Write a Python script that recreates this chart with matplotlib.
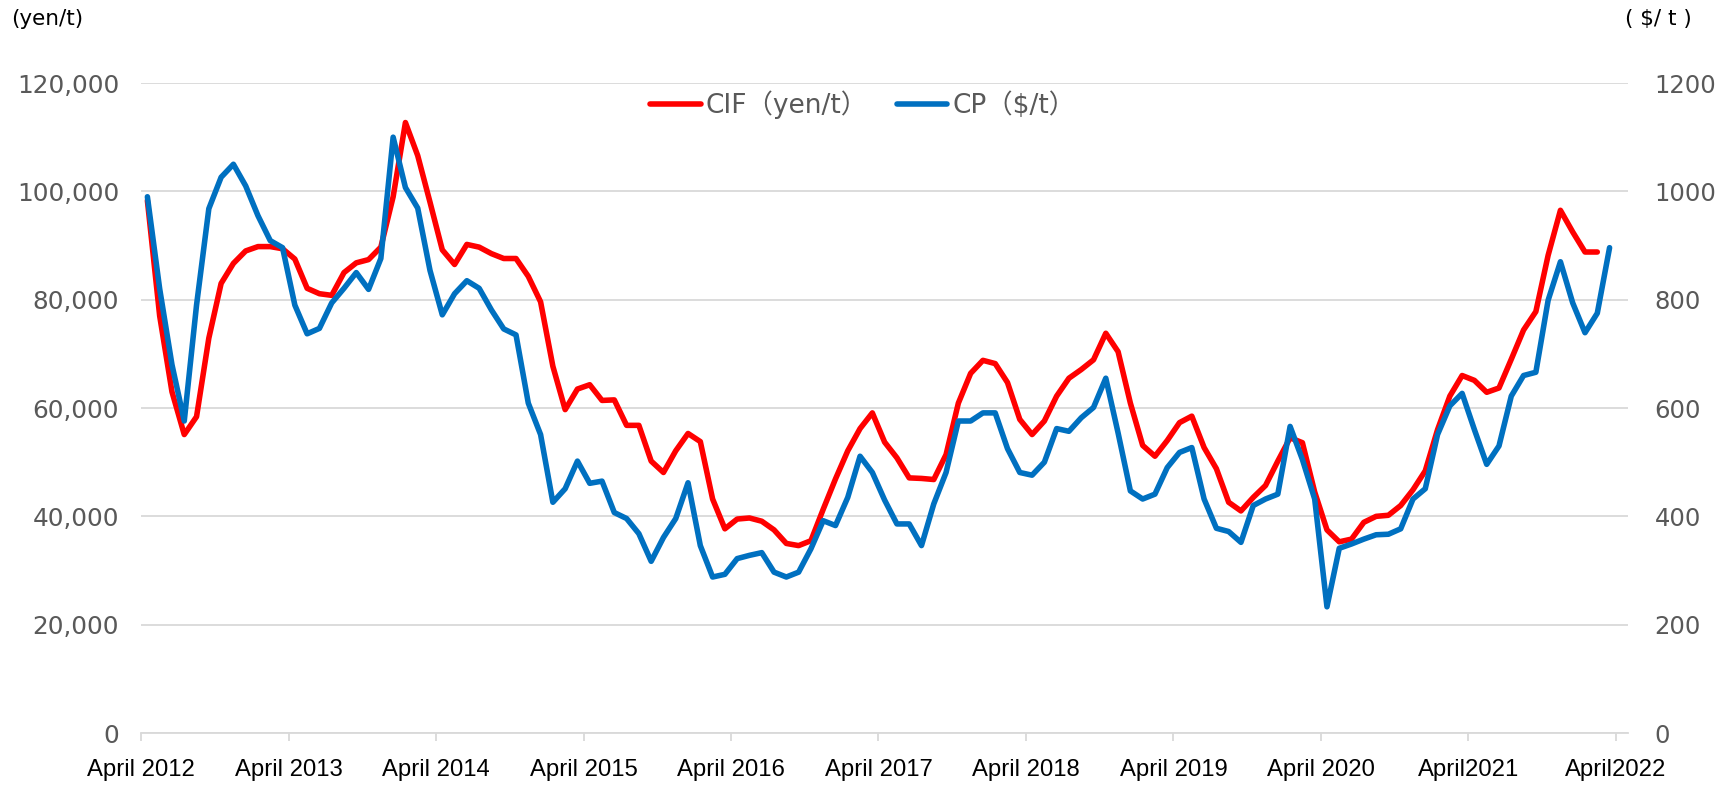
import numpy as np
import matplotlib
matplotlib.use("Agg")
import matplotlib.pyplot as plt

# CIF price (yen/t), monthly from April 2012
cif = [98300, 77000, 63000, 55100, 58400, 72900, 83000, 86700, 89000, 89800,
       89800, 89400, 87500, 82100, 81100, 80800, 85000, 86800, 87400, 89700,
       99000, 112700, 106600, 98000, 89200, 86500, 90200, 89700, 88500, 87600,
       87600, 84300, 79600, 67700, 59700, 63500, 64300, 61400, 61500, 56800,
       56800, 50200, 48100, 52100, 55300, 53800, 43200, 37700, 39500, 39700,
       39100, 37500, 35000, 34600, 35500, 41300, 46900, 52100, 56200, 59100,
       53700, 50800, 47100, 47000, 46800, 51400, 60900, 66400, 68800, 68200,
       64700, 57900, 55100, 57600, 62200, 65500, 67100, 68900, 73800, 70400,
       60900, 53100, 51100, 54000, 57300, 58500, 52700, 48800, 42600, 41000,
       43500, 45700, 50200, 54500, 53600, 44500, 37500, 35300, 35800, 38900,
       40000, 40200, 42000, 44900, 48400, 56000, 62200, 66000, 65100, 62900,
       63700, 69000, 74400, 77800, 88200, 96500, 92500, 88800, 88800]

# CP price ($/t), monthly from April 2012
cp = [990, 820, 680, 576, 790, 968, 1026, 1050, 1010, 955,
      909, 896, 790, 737, 747, 794, 821, 850, 819, 876,
      1100, 1007, 969, 854, 772, 811, 835, 821, 781, 746,
      735, 609, 551, 426, 451, 502, 461, 465, 407, 396,
      368, 317, 361, 396, 462, 346, 288, 293, 322, 328,
      333, 297, 288, 297, 340, 392, 383, 435, 511, 481,
      430, 386, 386, 346, 423, 481, 576, 576, 591, 591,
      525, 481, 476, 500, 562, 557, 582, 601, 655, 554,
      447, 432, 441, 490, 518, 527, 432, 378, 372, 352,
      420, 432, 441, 566, 505, 432, 233, 341, 349, 358,
      366, 367, 377, 432, 451, 551, 604, 627, 560, 496,
      530, 622, 660, 666, 799, 870, 794, 739, 775, 896]

xlabels = ["April 2012", "April 2013", "April 2014", "April 2015", "April 2016",
           "April 2017", "April 2018", "April 2019", "April 2020", "April2021",
           "April2022"]

n_months = 121
grey = "#595959"
gridc = "#D9D9D9"

fig = plt.figure(figsize=(17.31, 7.86), dpi=100)
ax = fig.add_axes([0.0816, 0.0674, 0.8589, 0.827])
ax2 = ax.twinx()

x1 = np.arange(len(cif)) + 0.5
x2 = np.arange(len(cp)) + 0.5
l1, = ax.plot(x1, cif, color="#FF0000", lw=4, solid_joinstyle="round",
              solid_capstyle="round", label="CIF（yen/t）")
l2, = ax2.plot(x2, cp, color="#0070C0", lw=4, solid_joinstyle="round",
               solid_capstyle="round", label="CP（$/t）")

ax.set_xlim(0, n_months)
ax.set_ylim(0, 120000)
ax2.set_ylim(0, 1200)

ax.set_yticks(np.arange(0, 120001, 20000))
ax.set_yticklabels([f"{v:,}" for v in range(0, 120001, 20000)])
ax2.set_yticks(np.arange(0, 1201, 200))
ax.grid(axis="y", color=gridc, lw=1.3)
ax.set_axisbelow(True)

ax.set_xticks(np.arange(0, n_months, 12))
ax.set_xticklabels(xlabels, family="Liberation Sans", fontsize=17.2, color="black")

for a in (ax, ax2):
    for s in ["top", "left", "right", "bottom"]:
        a.spines[s].set_visible(False)
ax.spines["bottom"].set_visible(True)
ax.spines["bottom"].set_color(gridc)
ax.spines["bottom"].set_linewidth(1.3)

ax.tick_params(axis="x", direction="out", length=6, width=1.3, color=gridc, pad=13)
ax.tick_params(axis="y", length=0, pad=16, labelsize=17.8, labelcolor=grey)
ax2.tick_params(axis="y", length=0, pad=19, labelsize=17.5, labelcolor=grey)

fig.text(11 / 1731, 1 - 19 / 786, "(yen/t)", fontsize=15.5, ha="left", va="center")
fig.text(1692 / 1731, 1 - 19 / 786, "( $/ t )", fontsize=15.5, ha="right", va="center")

fig.legend(handles=[l1, l2], loc="center", bbox_to_anchor=(863 / 1731, 1 - 105 / 786),
           ncol=2, frameon=False, handlelength=1.9, handletextpad=0.2,
           columnspacing=1.1, prop={"family": ["DejaVu Sans", "Noto Sans CJK JP"], "size": 19},
           labelcolor=grey)

fig.savefig("out.png", dpi=100)
